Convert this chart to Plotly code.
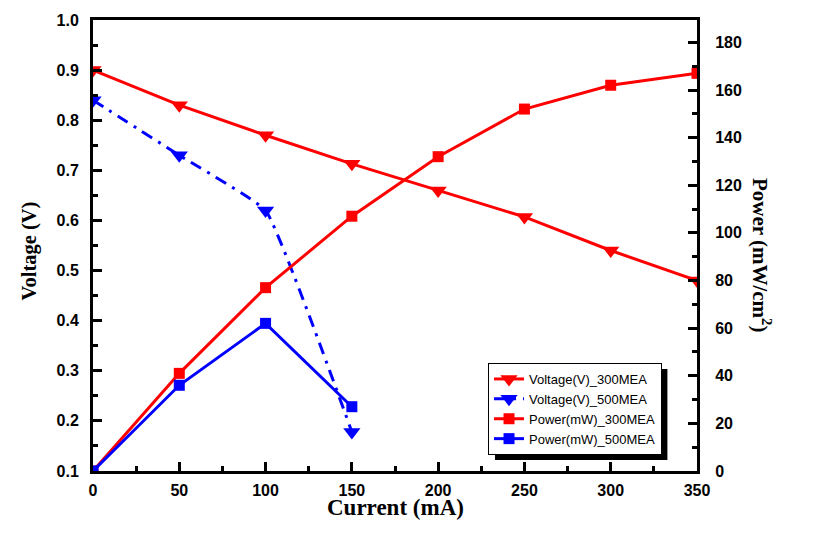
import plotly.graph_objects as go

current = [0, 50, 100, 150, 200, 250, 300, 350]
voltage_300 = [0.90, 0.83, 0.77, 0.713, 0.66, 0.607, 0.54, 0.48]
power_300 = [0, 41, 77, 107, 132, 152, 162, 167]
current_500 = [0, 50, 100, 150]
voltage_500 = [0.84, 0.73, 0.62, 0.178]
power_500 = [0, 36, 62, 27]

RED = "#ff0000"
BLUE = "#0000ff"

fig = go.Figure()
fig.add_trace(go.Scatter(x=current, y=voltage_300, name="Voltage(V)_300MEA",
                         mode="lines+markers", line=dict(color=RED, width=3),
                         marker=dict(symbol="triangle-down", size=15, color=RED)))
fig.add_trace(go.Scatter(x=current_500, y=voltage_500, name="Voltage(V)_500MEA",
                         mode="lines+markers",
                         line=dict(color=BLUE, width=3, dash="12px,7px,3px,7px",
                                   shape="spline", smoothing=0.3),
                         marker=dict(symbol="triangle-down", size=15, color=BLUE)))
fig.add_trace(go.Scatter(x=current, y=power_300, name="Power(mW)_300MEA", yaxis="y2",
                         mode="lines+markers", line=dict(color=RED, width=3),
                         marker=dict(symbol="square", size=11, color=RED)))
fig.add_trace(go.Scatter(x=current_500, y=power_500, name="Power(mW)_500MEA", yaxis="y2",
                         mode="lines+markers", line=dict(color=BLUE, width=3),
                         marker=dict(symbol="square", size=11, color=BLUE)))

tickfont = dict(family="Liberation Sans", size=16, color="black", weight="bold")
axis_common = dict(showline=True, linecolor="black", linewidth=3, ticks="inside",
                   ticklen=9, tickwidth=3, tickcolor="black", showgrid=False,
                   zeroline=False, tickfont=tickfont)
minor_common = dict(ticklen=5, tickwidth=3, tickcolor="black", ticks="inside")

fig.update_layout(
    width=813, height=540,
    margin=dict(l=93, r=116, t=20, b=69),
    plot_bgcolor="white", paper_bgcolor="white",
    xaxis=dict(range=[0, 350], dtick=50, tick0=0, mirror=True,
               minor=dict(dtick=25, **minor_common),
               ticklabelstandoff=3, **axis_common),
    yaxis=dict(range=[0.1, 1.0], dtick=0.1, tick0=0.1, tickformat=".1f",
               minor=dict(dtick=0.05, **minor_common),
               ticklabelstandoff=8, **axis_common),
    yaxis2=dict(range=[0, 189.4], dtick=20, tick0=0, overlaying="y", side="right",
                minor=dict(dtick=10, **minor_common),
                ticklabelstandoff=12, **axis_common),
    showlegend=True,
    legend=dict(x=0.654, y=0.2395, xanchor="left", yanchor="top",
                bgcolor="white", bordercolor="black", borderwidth=1,
                font=dict(family="Liberation Sans", size=13, color="black"),
                tracegroupgap=0, itemwidth=30),
    shapes=[dict(type="rect", xref="paper", yref="paper",
                 x0=0.6656, x1=0.951, y0=0.0244, y1=0.226,
                 fillcolor="black", line=dict(width=0), layer="above")],
    annotations=[
        dict(text="Current (mA)", xref="paper", yref="paper", x=0.5, y=-0.08,
             xanchor="center", yanchor="middle", showarrow=False,
             font=dict(family="Liberation Serif", size=23, color="black", weight="bold")),
        dict(text="Voltage (V)", xref="paper", yref="paper", x=-0.105, y=0.488,
             xanchor="center", yanchor="middle", showarrow=False, textangle=-90,
             font=dict(family="Liberation Serif", size=20.5, color="black", weight="bold")),
        dict(text="Power (mW/cm<sup>2</sup>)", xref="paper", yref="paper", x=1.107, y=0.48,
             xanchor="center", yanchor="middle", showarrow=False, textangle=90,
             font=dict(family="Liberation Serif", size=21, color="black", weight="bold")),
    ],
)

fig.write_html("out.html")
